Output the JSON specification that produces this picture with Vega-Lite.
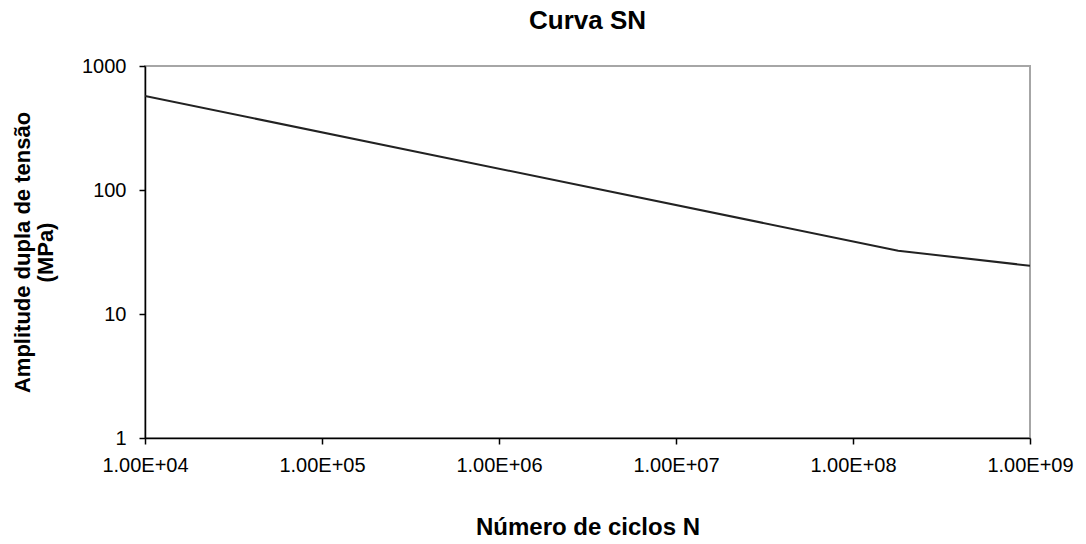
{
  "$schema": "https://vega.github.io/schema/vega-lite/v6.json",
  "width": 885,
  "height": 372,
  "autosize": "none",
  "padding": {"left": 145, "top": 66, "right": 56, "bottom": 106},
  "background": "white",
  "config": {
    "font": "Liberation Sans",
    "view": {"stroke": "#a6a6a6", "strokeWidth": 2}
  },
  "title": {
    "text": "Curva SN",
    "fontSize": 26,
    "fontWeight": "bold",
    "color": "#000",
    "offset": 22,
    "anchor": "middle"
  },
  "data": {
    "values": [
      {"N": 10000, "S": 573},
      {"N": 180000000, "S": 32.4},
      {"N": 1000000000, "S": 24.5}
    ]
  },
  "mark": {"type": "line", "color": "#222", "strokeWidth": 2, "clip": true},
  "encoding": {
    "x": {
      "field": "N",
      "type": "quantitative",
      "scale": {"type": "log", "domain": [10000, 1000000000], "nice": false},
      "axis": {
        "title": "Número de ciclos  N",
        "titleFontSize": 24,
        "titleFontWeight": "bold",
        "titleColor": "#000",
        "titleBaseline": "middle",
        "titleY": 89,
        "values": [10000, 100000, 1000000, 10000000, 100000000, 1000000000],
        "labelExpr": "'1.00E+' + (round(log(datum.value)/LN10) < 10 ? '0' : '') + round(log(datum.value)/LN10)",
        "labelFontSize": 20,
        "labelColor": "#000",
        "labelPadding": 11,
        "labelFlush": false,
        "grid": false,
        "domainColor": "#000",
        "domainWidth": 1.5,
        "tickColor": "#000",
        "tickWidth": 1.5,
        "tickSize": 6
      }
    },
    "y": {
      "field": "S",
      "type": "quantitative",
      "scale": {"type": "log", "domain": [1, 1000], "nice": false},
      "axis": {
        "title": ["Amplitude dupla de tensão", "(MPa)"],
        "titleFontSize": 22,
        "titleFontWeight": "bold",
        "titleColor": "#000",
        "titleLineHeight": 23,
        "titleBaseline": "top",
        "titleX": -133,
        "values": [1, 10, 100, 1000],
        "format": "d",
        "labelFontSize": 20,
        "labelColor": "#000",
        "labelPadding": 13,
        "labelFlush": false,
        "grid": false,
        "domainColor": "#000",
        "domainWidth": 1.5,
        "tickColor": "#000",
        "tickWidth": 1.5,
        "tickSize": 6
      }
    }
  }
}
